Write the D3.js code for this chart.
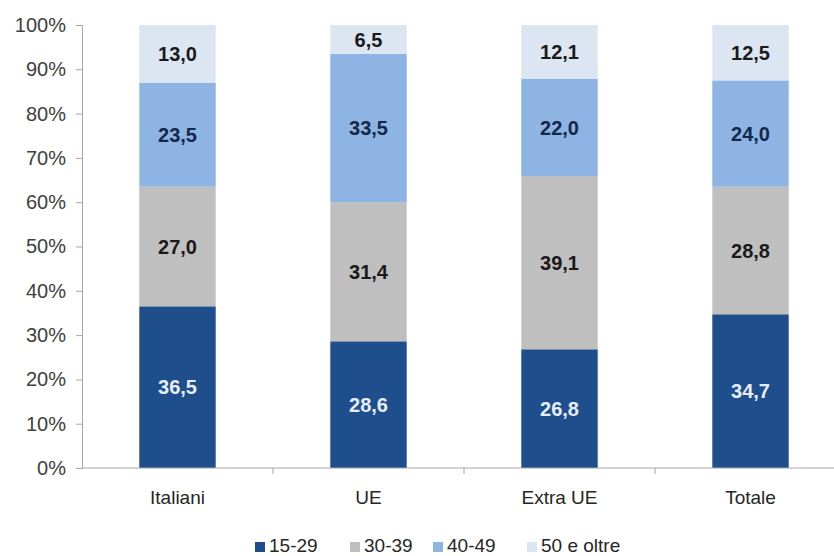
<!DOCTYPE html>
<html>
<head>
<meta charset="utf-8">
<script src="https://cdn.jsdelivr.net/npm/d3@7/dist/d3.min.js"></script>
<style>
  html, body { margin: 0; padding: 0; background: #fff; }
  svg { display: block; }
  text { font-family: "Liberation Sans", Arial, sans-serif; }
</style>
</head>
<body>
<svg id="chart" width="834" height="556"></svg>
<script>
// Age-group shares (%) by citizenship
const categories = ["Italiani", "UE", "Extra UE", "Totale"];
const groups = ["15-29", "30-39", "40-49", "50 e oltre"];
const v15_29 = [36.5, 28.6, 26.8, 34.7];
const v30_39 = [27.0, 31.4, 39.1, 28.8];
const v40_49 = [23.5, 33.5, 22.0, 24.0];
const v50plus = [13.0, 6.5, 12.1, 12.5];
const yTicks = [0, 10, 20, 30, 40, 50, 60, 70, 80, 90, 100];

const seriesValues = [v15_29, v30_39, v40_49, v50plus];
const colors = ["#1f4e8c", "#bfbfbf", "#8db4e2", "#dce6f2"];
const labelColors = ["#e6eefa", "#1a1a1a", "#14284a", "#1a1a1a"];

const rows = categories.map((c, i) => {
  const r = { cat: c };
  groups.forEach((g, k) => { r[g] = seriesValues[k][i]; });
  return r;
});
const stacked = d3.stack().keys(groups)(rows);

const svg = d3.select("#chart");
const mLeft = 82, mTop = 25, mBottom = 468, mRight = 846;

const x = d3.scaleBand().domain(categories).range([mLeft, mRight])
  .paddingInner(0.6).paddingOuter(0.3);
const y = d3.scaleLinear().domain([0, 100]).range([mBottom, mTop]);

// bars
const layer = svg.append("g").selectAll("g").data(stacked).join("g")
  .attr("fill", (d, i) => colors[i]);
layer.selectAll("rect").data(d => d).join("rect")
  .attr("x", d => x(d.data.cat))
  .attr("width", x.bandwidth())
  .attr("y", d => y(d[1]))
  .attr("height", d => y(d[0]) - y(d[1]));

// value labels
const fmt = v => v.toFixed(1).replace(".", ",");
stacked.forEach((s, k) => {
  svg.append("g").selectAll("text").data(s).join("text")
    .attr("x", d => x(d.data.cat) + x.bandwidth() / 2)
    .attr("y", d => (y(d[0]) + y(d[1])) / 2)
    .attr("dy", "0.36em")
    .attr("text-anchor", "middle")
    .attr("font-size", 20)
    .attr("font-weight", "bold")
    .attr("fill", labelColors[k])
    .text(d => fmt(d[1] - d[0]));
});

// y axis
const yAxis = svg.append("g").attr("transform", `translate(${mLeft},0)`)
  .call(d3.axisLeft(y).tickValues(yTicks).tickFormat(d => d + "%").tickSize(6).tickPadding(10));
yAxis.select(".domain").attr("stroke", "#a6a6a6");
yAxis.selectAll(".tick line").attr("stroke", "#a6a6a6");
yAxis.selectAll(".tick text").attr("font-size", 20).attr("fill", "#404040")
  .style("font-family", "'Liberation Sans', Arial, sans-serif");

// x axis with tick marks at category boundaries
const xg = svg.append("g").attr("transform", `translate(0,${mBottom})`);
xg.append("line").attr("x1", mLeft).attr("x2", mRight).attr("stroke", "#a6a6a6");
const step = x.step();
categories.slice(1).forEach(c => {
  const bx = x(c) - (step - x.bandwidth()) / 2;
  xg.append("line").attr("x1", bx).attr("x2", bx).attr("y1", 0).attr("y2", 6).attr("stroke", "#a6a6a6");
});
xg.selectAll("text.cat").data(categories).join("text")
  .attr("class", "cat")
  .attr("x", d => x(d) + x.bandwidth() / 2)
  .attr("y", 36)
  .attr("text-anchor", "middle")
  .attr("font-size", 19)
  .attr("fill", "#262626")
  .text(d => d);

// legend
const legendX = [255, 350, 433, 527];
const lg = svg.append("g");
groups.forEach((g, i) => {
  lg.append("rect").attr("x", legendX[i]).attr("y", 542).attr("width", 10).attr("height", 10)
    .attr("fill", colors[i]);
  lg.append("text").attr("x", legendX[i] + 14).attr("y", 552)
    .attr("font-size", 19).attr("fill", "#262626").text(g);
});
</script>
</body>
</html>
